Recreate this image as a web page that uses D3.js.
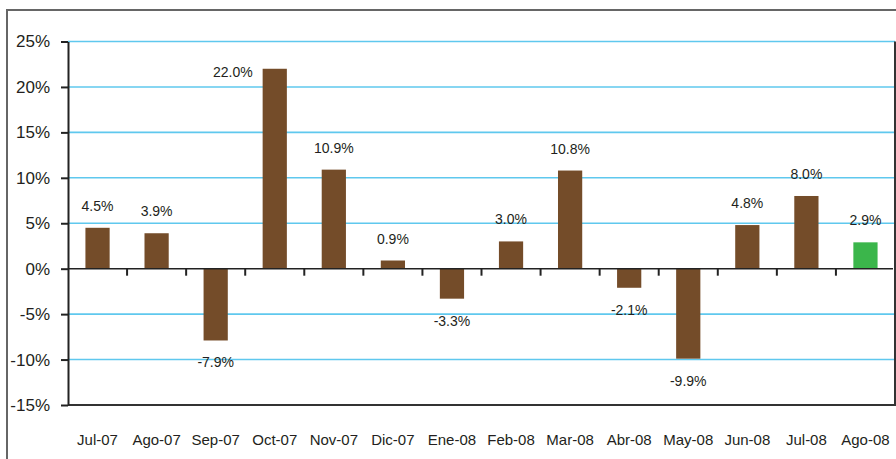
<!DOCTYPE html>
<html><head><meta charset="utf-8">
<script src="https://cdn.jsdelivr.net/npm/d3@7"></script>
<style>body{margin:0;background:#fff}svg{display:block;font-family:"Liberation Sans",Arial,sans-serif}</style>
</head><body><svg id="c" width="896" height="459"></svg>
<script>
const categories = ["Jul-07","Ago-07","Sep-07","Oct-07","Nov-07","Dic-07","Ene-08","Feb-08","Mar-08","Abr-08","May-08","Jun-08","Jul-08","Ago-08"];
const values = [4.5, 3.9, -7.9, 22.0, 10.9, 0.9, -3.3, 3.0, 10.8, -2.1, -9.9, 4.8, 8.0, 2.9];
const highlighted = ["Ago-08"];
const yTicks = [-15, -10, -5, 0, 5, 10, 15, 20, 25];

const svg = d3.select("#c");
const L = 68, R = 895, T = 41.5, B = 405;
const x = d3.scaleBand().domain(categories).range([L, R]).paddingInner(0.59).paddingOuter(0.295);
const y = d3.scaleLinear().domain([-15, 25]).range([B, T]);
const textCol = "#231f20";

// outer frame
svg.append("path").attr("d", `M7,470 V10 H900`).attr("fill","none").attr("stroke","#666").attr("stroke-width",2);

// gridlines
svg.append("g").selectAll("line").data(yTicks.filter(d => d !== 0 && d !== -15)).join("line")
  .attr("x1", L).attr("x2", R).attr("y1", d => y(d)).attr("y2", d => y(d))
  .attr("stroke", "#5fc8ee").attr("stroke-width", 1.6);

// plot border right & bottom
svg.append("path").attr("d", `M${L},${B} H${R} V${T}`).attr("fill","none").attr("stroke","#333").attr("stroke-width",2);

// bars
svg.append("g").selectAll("rect").data(categories).join("rect")
  .attr("x", d => x(d)).attr("width", x.bandwidth())
  .attr("y", (d,i) => y(Math.max(0, values[i])))
  .attr("height", (d,i) => Math.abs(y(values[i]) - y(0)))
  .attr("fill", d => highlighted.includes(d) ? "#3bb64b" : "#744c29");

// zero line
svg.append("line").attr("x1", L).attr("x2", R - 2).attr("y1", y(0)).attr("y2", y(0))
  .attr("stroke", "#222").attr("stroke-width", 1.6);
// category ticks on zero line
const step = x.step();
svg.append("g").selectAll("line").data(categories.slice(1)).join("line")
  .attr("x1", d => x(d) - x.paddingInner() * step / 2).attr("x2", d => x(d) - x.paddingInner() * step / 2)
  .attr("y1", y(0)).attr("y2", y(0) + 7)
  .attr("stroke", "#222").attr("stroke-width", 2);

// y axis
const yAxis = svg.append("g").attr("transform", `translate(${L},0)`)
  .call(d3.axisLeft(y).tickValues(yTicks).tickFormat(d => d + "%").tickSize(7).tickPadding(11).tickSizeOuter(0));
yAxis.select(".domain").attr("stroke", "#222").attr("stroke-width", 2);
yAxis.selectAll(".tick line").attr("stroke", "#222").attr("stroke-width", 2);
yAxis.selectAll(".tick text").attr("font-size", 17).attr("fill", textCol)
  .attr("font-family", '"Liberation Sans",Arial,sans-serif');

// category labels
svg.append("g").selectAll("text").data(categories).join("text")
  .attr("x", d => x(d) + x.bandwidth() / 2).attr("y", 445)
  .attr("text-anchor", "middle").attr("font-size", 15).attr("fill", textCol)
  .text(d => d);

// value labels
svg.append("g").selectAll("text").data(categories).join("text")
  .attr("font-size", 14).attr("fill", textCol)
  .each(function(d, i) {
    const v = values[i];
    const t = d3.select(this).text(v.toFixed(1) + "%");
    const cx = x(d) + x.bandwidth() / 2;
    if (y(v) - 17 < y(20)) {
      t.attr("x", x(d) - 10).attr("y", y(v) + 8).attr("text-anchor", "end");
    } else if (v >= 0) {
      t.attr("x", cx).attr("y", y(v) - 17).attr("text-anchor", "middle");
    } else {
      t.attr("x", cx).attr("y", y(v) + 27).attr("text-anchor", "middle");
    }
  });
</script></body></html>
